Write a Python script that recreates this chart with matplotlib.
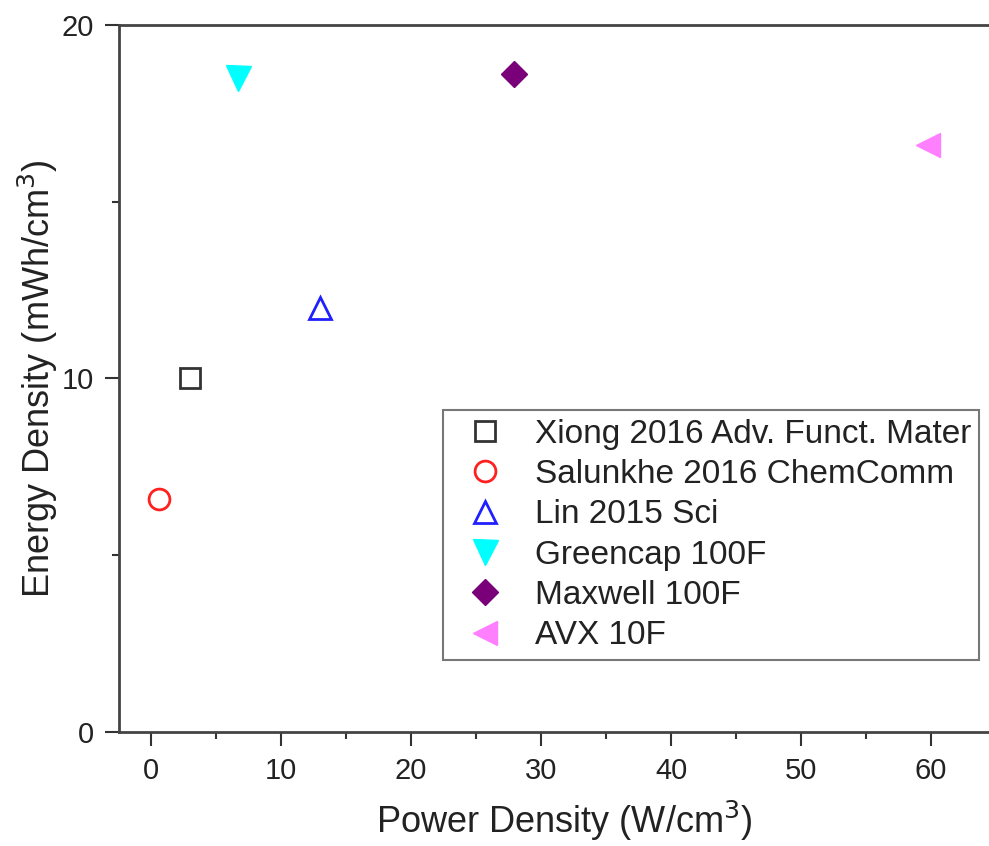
import matplotlib
matplotlib.use("Agg")
import matplotlib.pyplot as plt
from matplotlib.ticker import MultipleLocator

plt.rcParams['font.family'] = ['Liberation Sans', 'DejaVu Sans']

# data
labels = ["Xiong 2016 Adv. Funct. Mater", "Salunkhe 2016 ChemComm", "Lin 2015 Sci",
          "Greencap 100F", "Maxwell 100F", "AVX 10F"]
power = [3.0, 0.6, 13.0, 6.7, 27.9, 59.8]
energy = [10.0, 6.6, 12.0, 18.5, 18.6, 16.6]
markers = ['s', 'o', '^', 'v', 'D', '<']
colors = ['#333333', '#ff2020', '#2020ff', '#00ffff', '#7a007a', '#ff80ff']
filled = [False, False, False, True, True, True]
sizes = [14, 15, 16, 18, 13, 17]

fig = plt.figure(figsize=(9.89, 8.46), dpi=100)
# axes runs past the right edge like the cropped original
ax = fig.add_axes([0.1203, 0.1348, 0.9, 0.8357])

for i in range(len(labels)):
    if filled[i]:
        ax.plot(power[i], energy[i], linestyle='none', marker=markers[i], ms=sizes[i],
                color=colors[i], mec=colors[i], label=labels[i])
    else:
        ax.plot(power[i], energy[i], linestyle='none', marker=markers[i], ms=sizes[i],
                mfc='none', mec=colors[i], mew=2, label=labels[i])

ax.set_xlim(-2.46, 66.0)
ax.set_ylim(0, 20)
ax.xaxis.set_major_locator(MultipleLocator(10))
ax.xaxis.set_minor_locator(MultipleLocator(5))
ax.yaxis.set_major_locator(MultipleLocator(10))
ax.yaxis.set_minor_locator(MultipleLocator(5))
ax.tick_params(which='major', direction='out', length=10, width=1.5, labelsize=21,
               colors='#333333', labelcolor='#222222', pad=8)
ax.tick_params(which='minor', direction='out', length=5, width=1.5, colors='#333333')
for s in ax.spines.values():
    s.set_linewidth(2)
    s.set_color('#444444')

ax.set_xlabel('Power Density (W/cm$^3$)', fontsize=26, color='#222222', labelpad=10)
ax.set_ylabel('Energy Density (mWh/cm$^3$)', fontsize=26, color='#222222', labelpad=1)

leg = ax.legend(loc='upper left', bbox_to_anchor=(0.364, 0.455), fontsize=24,
                frameon=True, fancybox=False, edgecolor='#555555', handlelength=2.0,
                handletextpad=0.5, labelspacing=0.28, borderpad=0.25, borderaxespad=0)
leg.get_frame().set_linewidth(1.5)
for t in leg.get_texts():
    t.set_color('#222222')

fig.savefig('out.png', dpi=100)
